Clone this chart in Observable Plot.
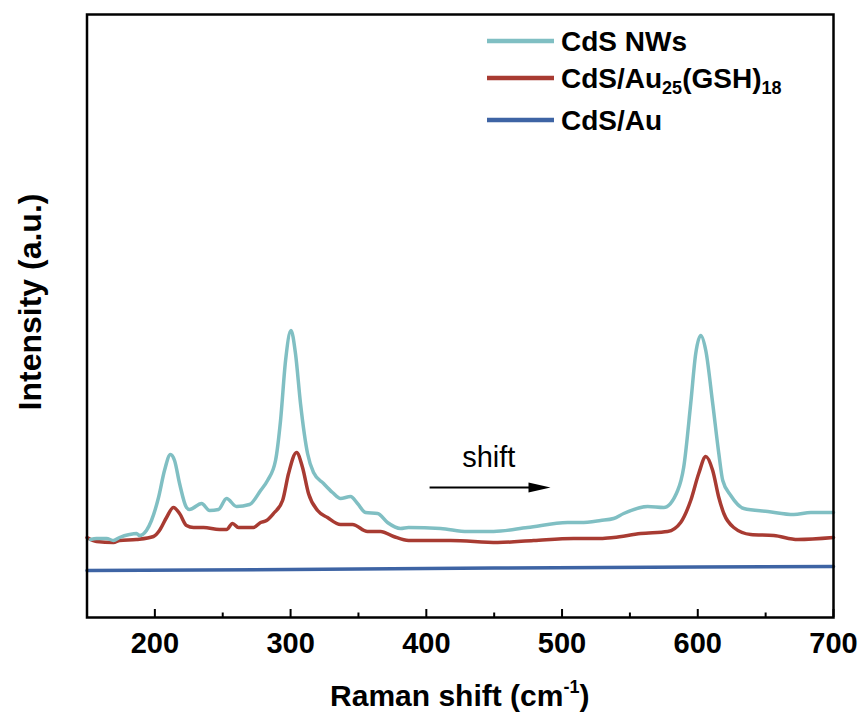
<!DOCTYPE html>
<html><head><meta charset="utf-8">
<script src="https://cdn.jsdelivr.net/npm/d3@7"></script>
<script src="https://cdn.jsdelivr.net/npm/@observablehq/plot@0.6"></script>
<style>body{margin:0;background:#fff}</style>
</head><body><div id="chart"></div>
<script>
// CdS NWs (cyan)
const nwsShift = [152.6,157.0,164.4,169.5,174.0,181.3,186.5,188.7,193.8,197.5,202.7,207.1,211.5,214.5,218.2,223.3,225.5,234.4,240.3,246.9,252.8,260.2,269.7,277.9,283.0,288.9,292.6,296.3,300.3,303.6,307.3,312.5,316.9,324.3,330.9,336.8,344.2,349.3,355.2,364.1,371.4,381.0,386.9,410.5,430.4,449.6,474.6,504.1,513.7,528.4,538.0,545.4,563.1,574.9,585.2,589.6,594.8,598.5,602.2,605.9,611.0,615.5,618.4,624.3,633.9,651.6,670.8,683.3,700];
const nwsIntensity = [78,79,79,77,80,83,84,82,87,97,120,147,163,157,134,110,108,114,107,108,119,111,113,127,137,157,197,257,287,264,214,164,145,134,125,119,121,114,105,104,95,89,90,89,86,86,90,95,95,97,99,104,111,110,127,150,214,264,282,267,214,164,137,122,109,106,103,105,105];
// CdS/Au25(GSH)18 (red)
const au25Shift = [150,157.0,169.5,174.0,186.5,199.0,203.4,208.6,213.7,218.2,223.3,228.5,235.9,247.6,252.8,257.2,261.6,272.7,277.9,282.3,287.4,294.1,298.5,304.4,308.8,313.2,319.9,327.2,336.8,345.6,356.7,366.3,375.9,387.0,417.9,452.6,479.1,508.6,528.4,538.0,557.9,577.8,587.4,594.8,600.7,605.9,611.0,615.5,619.2,626.5,639.0,656.0,673.7,700];
const au25Intensity = [80,76,75,77,78,81,87,100,110,104,92,90,90,88,88,94,90,90,95,97,104,117,144,165,150,124,107,100,93,93,86,86,81,77,77,75,77,79,79,80,84,86,95,117,144,161,147,120,104,90,83,82,78,80];
// CdS/Au (blue)
const auShift = [150,300,450,600,700];
const auIntensity = [47,48,49.5,50.5,51];

const seriesNames = ["CdS NWs","CdS/Au25(GSH)18","CdS/Au"];
const seriesColors = ["#80BFC3","#A83B32","#3E64A4"];
const xTicks = [200,300,400,500,600,700];
const xMinorTicks = [250,350,450,550,650];
const shiftArrow = [{x1: 402.4, x2: 491.5, y: 130}];
const shiftLabel = [{x: 446, y: 160, text: "shift"}];

const toRows = (xs, ys) => xs.map((x, i) => ({x, y: ys[i]}));
const nws = toRows(nwsShift, nwsIntensity);
const au25 = toRows(au25Shift, au25Intensity);
const au = toRows(auShift, auIntensity);

const headSymbol = {draw(ctx){ ctx.moveTo(0,0); ctx.lineTo(-22,-5); ctx.lineTo(-22,5); ctx.closePath(); }};
const FONT = "'Liberation Sans', Arial, sans-serif";

const plot = Plot.plot({
  width: 862, height: 716,
  marginLeft: 86.5, marginRight: 29, marginTop: 14, marginBottom: 99,
  x: {domain: [150, 700], ticks: xTicks, tickSize: 0, tickPadding: 15, tickFormat: d => String(d), label: null},
  y: {domain: [0, 603], axis: null},
  style: {fontFamily: FONT, fontSize: "29px", fontWeight: "bold", background: "white", color: "black"},
  marks: [
    Plot.line(au, {x: "x", y: "y", stroke: seriesColors[2], strokeWidth: 3.5}),
    Plot.line(au25, {x: "x", y: "y", stroke: seriesColors[1], strokeWidth: 3.5, curve: "monotone-x"}),
    Plot.line(nws, {x: "x", y: "y", stroke: seriesColors[0], strokeWidth: 3.5, curve: "monotone-x"}),
    Plot.ruleX(xTicks, {x: d => d, y1: 0, y2: 8, stroke: "black", strokeWidth: 2}),
    Plot.ruleX(xMinorTicks, {x: d => d, y1: 0, y2: 4.5, stroke: "black", strokeWidth: 2}),
    Plot.link(shiftArrow, {x1: "x1", x2: d => d.x2 - 10, y1: "y", y2: "y", stroke: "black", strokeWidth: 2}),
    Plot.dot(shiftArrow, {x: "x2", y: "y", symbol: headSymbol, fill: "black", stroke: null}),
    Plot.text(shiftLabel, {x: "x", y: "y", text: "text", fontSize: 29, fontWeight: "normal", fill: "black"}),
    Plot.frame({stroke: "black", strokeWidth: 2.5})
  ]
});
document.getElementById("chart").appendChild(plot);

const svg = d3.select(plot);
// X axis title with superscript
const xt = svg.append("text").attr("x", 459.75).attr("y", 706).attr("text-anchor", "middle")
  .attr("font-family", FONT).attr("font-weight", "bold").attr("font-size", 30).attr("fill", "black");
xt.append("tspan").text("Raman shift (cm");
xt.append("tspan").attr("font-size", 18).attr("dy", -13).text("-1");
xt.append("tspan").attr("dy", 13).text(")");
// Y axis title
svg.append("text").attr("transform", "translate(41,302) rotate(-90)").attr("text-anchor", "middle")
  .attr("font-family", FONT).attr("font-weight", "bold").attr("font-size", 32).attr("fill", "black")
  .text("Intensity (a.u.)");
// Legend
const legendY = [41, 78, 120];
const lg = svg.append("g").attr("font-family", FONT).attr("font-weight", "bold").attr("fill", "black").attr("text-anchor", "start");
seriesNames.forEach((name, i) => {
  lg.append("line").attr("x1", 487).attr("x2", 554).attr("y1", legendY[i]).attr("y2", legendY[i])
    .attr("stroke", seriesColors[i]).attr("stroke-width", 4.5);
  const t = lg.append("text").attr("x", 561).attr("y", legendY[i] + 10).attr("font-size", 28).attr("text-anchor", "start");
  if (i === 1) {
    t.append("tspan").text("CdS/Au");
    t.append("tspan").attr("font-size", 18).attr("dy", 6).text("25");
    t.append("tspan").attr("dy", -6).text("(GSH)");
    t.append("tspan").attr("font-size", 18).attr("dy", 6).text("18");
  } else {
    t.text(name);
  }
});
</script>
</body></html>
